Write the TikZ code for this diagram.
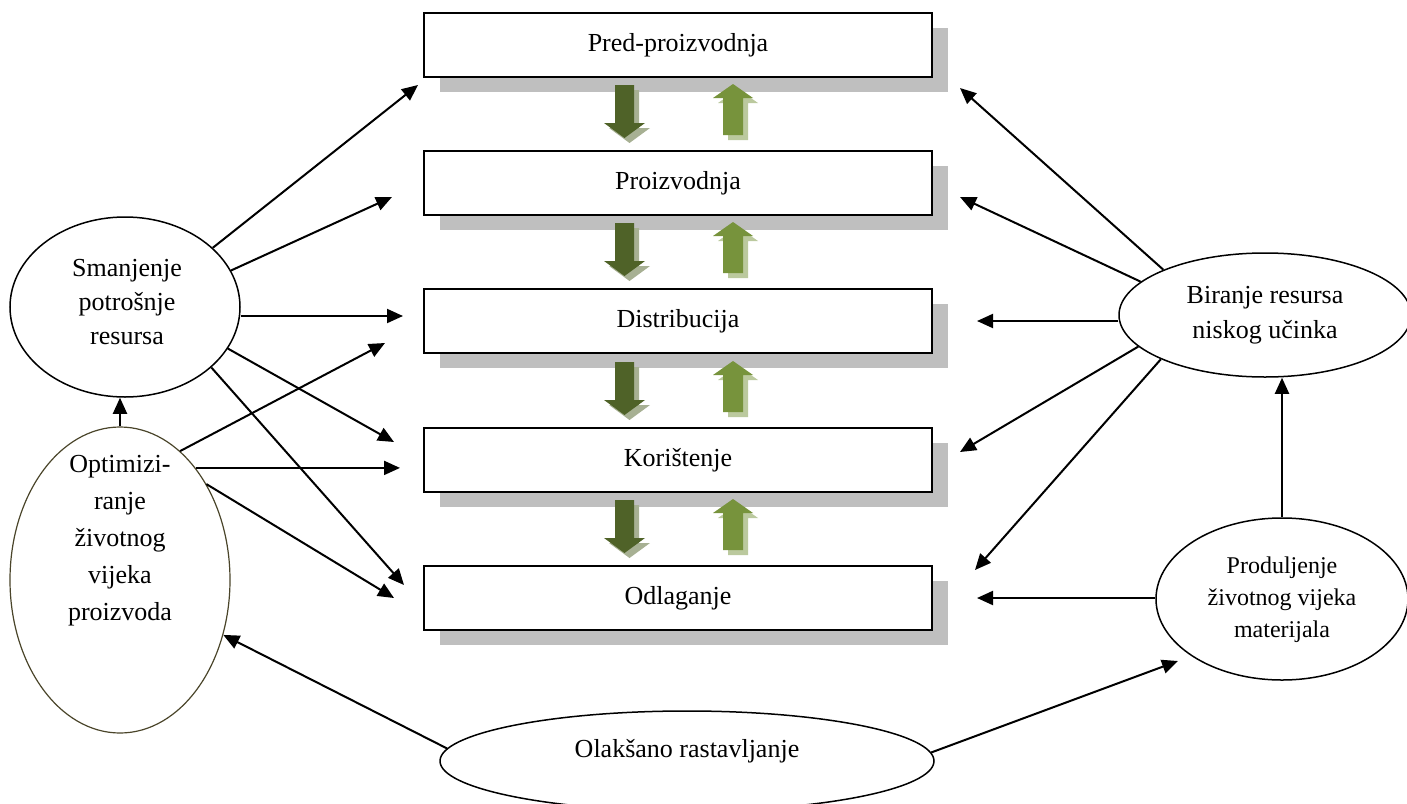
\documentclass[tikz,border=0pt]{standalone}
\usepackage{fontspec}
\setmainfont{Liberation Serif}
\usetikzlibrary{arrows.meta,shapes.geometric,calc}
\definecolor{dgreen}{HTML}{4F6228}
\definecolor{lgreen}{HTML}{77933C}
\definecolor{shad}{HTML}{BFBFBF}
\definecolor{olive}{HTML}{4A452A}
\begin{document}
\begin{tikzpicture}[x=1pt,y=-1pt,
  conn/.style={line width=2pt,-{Triangle[length=16pt,width=14pt]}},
  stagebox/.style={draw=black,line width=1.8pt,fill=white,minimum width=508pt,minimum height=64pt,inner sep=0pt,font=\fontsize{26}{30}\selectfont},
  goal/.style={draw=black,line width=1.5pt,ellipse,inner sep=0pt,fill=white},
  lbl/.style={align=center,font=\fontsize{26}{35}\selectfont},
  shadowbox/.style={fill=shad,draw=none}]
\useasboundingbox (0,0) rectangle (1407,803);
% box shadows
\foreach \t in {13,151,289,428,566}{
  \fill[shadowbox] (440,\t+15) rectangle (948,\t+79);
}
% stage boxes
\node[stagebox] (b1) at (678,45) {Pred-proizvodnja};
\node[stagebox] (b2) at (678,183) {Proizvodnja};
\node[stagebox] (b3) at (678,321) {Distribucija};
\node[stagebox] (b4) at (678,460) {Korištenje};
\node[stagebox] (b5) at (678,598) {Odlaganje};
% fat arrows between stages
\foreach \T in {151,289,428,566}{
  \fill[dgreen!50] ($(5,5)+(615,\T-66)$) -- ++(19,0) -- ++(0,38) -- ++(11,0) -- ++(-20.5,15) -- ++(-20.5,-15) -- ++(11,0) -- cycle;
  \fill[dgreen] (615,\T-66) -- ++(19,0) -- ++(0,38) -- ++(11,0) -- ++(-20.5,15) -- ++(-20.5,-15) -- ++(11,0) -- cycle;
  \fill[lgreen!50] ($(5,5)+(723,\T-16)$) -- ++(20,0) -- ++(0,-37) -- ++(10,0) -- ++(-20,-14) -- ++(-20,14) -- ++(10,0) -- cycle;
  \fill[lgreen] (723,\T-16) -- ++(20,0) -- ++(0,-37) -- ++(10,0) -- ++(-20,-14) -- ++(-20,14) -- ++(10,0) -- cycle;
}
% ellipses
\node[goal,minimum width=230pt,minimum height=180pt] (sm) at (125,307) {};
\node[lbl,font=\fontsize{26}{34}\selectfont] (smt) at (127,302) {Smanjenje\\potrošnje\\resursa};
\node[goal,draw=olive,line width=1.2pt,minimum width=220pt,minimum height=306pt] (opt) at (120,580) {};
\node[lbl,font=\fontsize{26}{37}\selectfont] (optt) at (120,541) {Optimizi-\\ranje\\životnog\\vijeka\\proizvoda};
\node[goal,minimum width=292pt,minimum height=124pt] (bir) at (1265,315) {};
\node[lbl] (birt) at (1265,315) {Biranje resursa\\niskog učinka};
\node[goal,minimum width=252pt,minimum height=162pt] (pro) at (1282,599) {};
\node[lbl,font=\fontsize{24}{32}\selectfont] (prot) at (1282,600) {Produljenje\\životnog vijeka\\materijala};
\node[goal,minimum width=494pt,minimum height=100pt] (ol) at (687,761) {};
\node[lbl] (olt) at (687,751) {Olakšano rastavljanje};
% free arrow ends
\coordinate (L1) at (418,85);
\coordinate (L2) at (392,197);
\coordinate (L3) at (403,316);
\coordinate (L4) at (394,442);
\coordinate (L5) at (404,585);
\coordinate (L6) at (385,343);
\coordinate (L7) at (400,470);
\coordinate (L8) at (394,598);
\coordinate (R1) at (960,88);
\coordinate (R2) at (960,197);
\coordinate (R3) at (977,321);
\coordinate (R4) at (960,452);
\coordinate (R5) at (975,570);
\coordinate (R6) at (977,598);
\coordinate (R7) at (1178,661);
% connectors
\draw[conn] (sm.34) -- (L1);
\draw[conn] (sm.19) -- (L2);
\draw[conn] (sm.east |- L3) -- (L3);
\draw[conn] (sm.-22) -- (L4);
\draw[conn] (sm.-35) -- (L5);
\draw[conn] (opt.65) -- (L6);
\draw[conn] (opt.56) -- (opt.56 -| L7);
\draw[conn] (opt.48) -- (L8);
\draw[conn] (opt.north) -- (opt.north |- sm.south);
\draw[conn] (ol.177) -- (opt.-28);
\draw[conn] (ol.2) -- (R7);
\draw[conn] (bir.156) -- (R1);
\draw[conn] (bir.165) -- (R2);
\draw[conn] (bir.west |- R3) -- (R3);
\draw[conn] (bir.194) -- (R4);
\draw[conn] (bir.203) -- (R5);
\draw[conn] (pro.north) -- (pro.north |- bir.south);
\draw[conn] (pro.west |- R6) -- (R6);
\end{tikzpicture}
\end{document}
